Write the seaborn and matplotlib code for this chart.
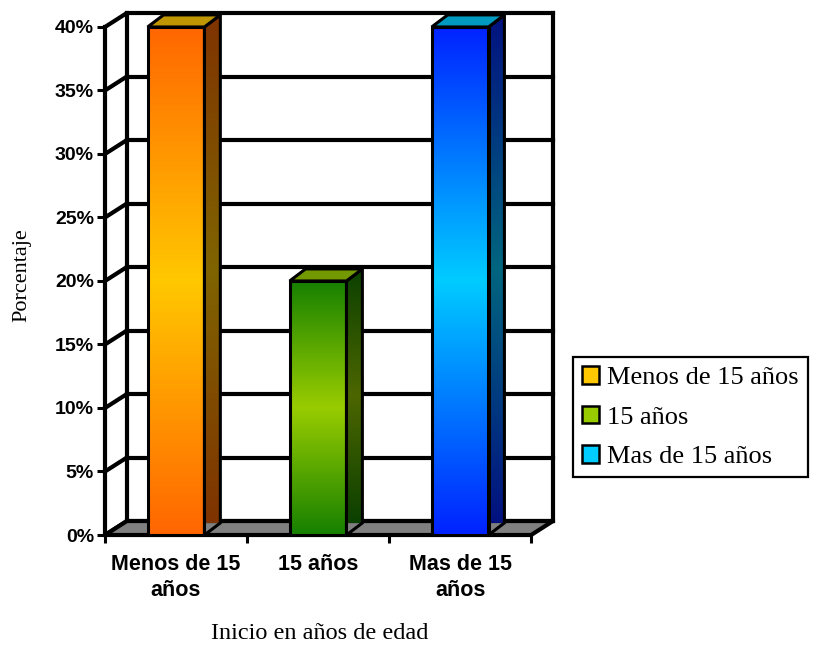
import numpy as np
import pandas as pd
import seaborn as sns
import matplotlib.pyplot as plt
from matplotlib.patches import Polygon, Patch
from matplotlib.colors import to_rgb

# datos del grafico
categorias = ["Menos de 15 años", "15 años", "Mas de 15 años"]
etiquetas_x = ["Menos de 15\naños", "15 años", "Mas de 15\naños"]
porcentajes = [40, 20, 40]
ticks_y = [0, 5, 10, 15, 20, 25, 30, 35, 40]

# colores (centro claro y extremos del degradado)
color_centro = ["#FFC800", "#99CC00", "#00CCFF"]
color_borde = ["#FF6600", "#168000", "#0022FF"]

# profundidad del efecto 3D (unidades de datos)
DX, DY = 0.154, 1.10   # paredes / suelo
BX, BY = 0.112, 0.95   # barras
LW = 3.0

sns.set_style("white")
plt.rcParams['font.family'] = ['Liberation Sans', 'DejaVu Sans']

fig = plt.figure(figsize=(8.16, 6.46), dpi=100)
ax = fig.add_axes([105 / 816, 111 / 646, 448 / 816, 522 / 646])

df = pd.DataFrame({"cat": categorias, "pct": porcentajes})
sns.barplot(data=df, x="cat", y="pct", hue="cat", palette=color_centro,
            width=0.4, legend=False, ax=ax, edgecolor="black", linewidth=2.2)


def degradado(c_borde, c_centro, factor=1.0, n=256):
    t = np.linspace(0, 1, n)
    w = 1 - np.abs(2 * t - 1)
    a = np.array(to_rgb(c_borde))
    b = np.array(to_rgb(c_centro))
    g = a[None, :] * (1 - w[:, None]) + b[None, :] * w[:, None]
    return (g * factor)[:, None, :]


# suelo gris
suelo = Polygon([(-0.5, 0), (2.5, 0), (2.5 + DX, DY), (-0.5 + DX, DY)],
                closed=True, facecolor="#808080", edgecolor="black",
                lw=LW, zorder=2, clip_on=False, joinstyle="round")
ax.add_patch(suelo)

# pared del fondo y pared izquierda
for v in ticks_y:
    ax.plot([-0.5 + DX, 2.5 + DX], [v + DY, v + DY], color="black", lw=LW,
            zorder=1, clip_on=False, solid_capstyle="projecting")
    ax.plot([-0.5, -0.5 + DX], [v, v + DY], color="black", lw=LW,
            zorder=1, clip_on=False, solid_capstyle="round")
ax.plot([-0.5, -0.5], [0, 40], color="black", lw=LW, zorder=3, clip_on=False,
        solid_capstyle="projecting")
ax.plot([-0.5 + DX, -0.5 + DX], [DY, 40 + DY], color="black", lw=LW, zorder=1,
        clip_on=False, solid_capstyle="projecting")
ax.plot([2.5 + DX, 2.5 + DX], [DY, 40 + DY], color="black", lw=LW, zorder=1,
        clip_on=False, solid_capstyle="projecting")

# barras con degradado, cara lateral y tapa
for p, cb, cc in zip(ax.patches[:len(categorias)], color_borde, color_centro):
    x0, w, h = p.get_x(), p.get_width(), p.get_height()
    x1 = x0 + w
    p.set_facecolor("none")
    p.set_zorder(7)
    im = ax.imshow(degradado(cb, cc), extent=[x0, x1, 0, h], origin="lower",
                   aspect="auto", zorder=6, interpolation="bilinear")
    im.set_clip_path(p)

    lado = Polygon([(x1, 0), (x1 + BX, BY), (x1 + BX, h + BY), (x1, h)],
                   closed=True, facecolor="none", edgecolor="black", lw=2.2, zorder=7)
    ax.add_patch(lado)
    im2 = ax.imshow(degradado(cb, cc, 0.5), extent=[x1, x1 + BX, BY, h + BY],
                    origin="lower", aspect="auto", zorder=6, interpolation="bilinear")
    im2.set_clip_path(lado)

    tapa = Polygon([(x0, h), (x1, h), (x1 + BX, h + BY), (x0 + BX, h + BY)],
                   closed=True, facecolor=np.array(to_rgb(cc)) * 0.75,
                   edgecolor="black", lw=2.2, zorder=7, clip_on=False)
    ax.add_patch(tapa)

ax.set_xlim(-0.5, 2.5 + DX)
ax.set_ylim(0, 40 + DY)
for s in ax.spines.values():
    s.set_visible(False)
ax.set_xlabel("")
ax.set_ylabel("")

# ejes
ax.set_yticks(ticks_y, [f"{v}%" for v in ticks_y])
ax.tick_params(axis="y", left=True, length=6, width=2.2, pad=2, labelsize=14,
               color="black", labelcolor="black")
ax.set_xticks([-0.5, 0.5, 1.5, 2.5], [""] * 4)
ax.set_xticks([0, 1, 2], etiquetas_x, minor=True)
ax.tick_params(axis="x", which="major", bottom=True, length=6, width=2.2, color="black")
ax.tick_params(axis="x", which="minor", bottom=True, length=0, pad=14,
               labelsize=15.5, labelcolor="black")
for lbl in ax.get_yticklabels() + ax.get_xticklabels(minor=True):
    lbl.set_fontweight("bold")
for lbl in ax.get_xticklabels(minor=True):
    lbl.set_linespacing(1.3)

serif = ["Liberation Serif", "DejaVu Serif"]
fig.text(22 / 816, 1 - 275 / 646, "Porcentaje", rotation=90, ha="center",
         va="center", family=serif, fontsize=16, color="black")
fig.text(320 / 816, 7 / 646, "Inicio en años de edad", ha="center",
         va="baseline", family=serif, fontsize=17.5, color="black")

# leyenda
handles = [Patch(facecolor=c, edgecolor="black", linewidth=1.8) for c in color_centro]
leg = fig.legend(handles, categorias, loc="upper left",
                 bbox_to_anchor=(573 / 816, 1 - 357 / 646), frameon=True,
                 fancybox=False, edgecolor="black", framealpha=1,
                 prop={"family": serif, "size": 19}, handlelength=0.65,
                 handleheight=0.65, handletextpad=0.3, borderaxespad=0,
                 borderpad=0.35, labelspacing=0.62)
leg.get_frame().set_linewidth(1.6)
for t in leg.get_texts():
    t.set_color("black")

plt.savefig("out.png", dpi=100)
